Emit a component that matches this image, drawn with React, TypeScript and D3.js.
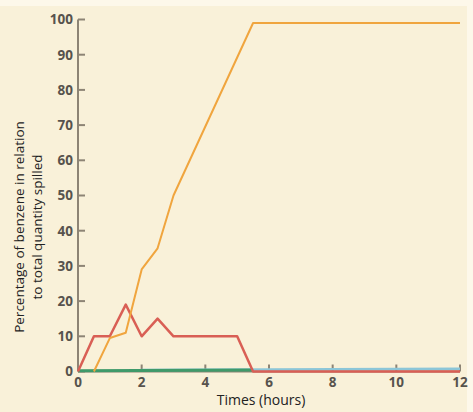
import React from "react";
import * as d3 from "d3";

const hours = [0, 0.5, 1, 1.5, 2, 2.5, 3, 5, 5.5, 12];
const orangeX = [0.5, 1, 1.5, 2, 2.5, 3, 5.5, 12];
const orangeY = [0, 9.5, 11, 29, 35, 50, 99, 99];
const redY = [0, 10, 10, 19, 10, 15, 10, 10, 0, 0];
const greenX = [0, 5.5];
const greenY = [0.2, 0.4];
const blueX = [2, 12];
const blueY = [0.4, 0.8];
const yTicks = [0, 10, 20, 30, 40, 50, 60, 70, 80, 90, 100];
const xTicks = [0, 2, 4, 6, 8, 10, 12];

const W = 473, H = 412;

export default function App() {
  const x = d3.scaleLinear().domain([0, 12]).range([78, 460]);
  const y = d3.scaleLinear().domain([0, 100]).range([371.5, 19.5]);
  const line = d3.line<[number, number]>().x(d => x(d[0])).y(d => y(d[1]));
  const zip = (xs: number[], ys: number[]) => xs.map((v, i) => [v, ys[i]] as [number, number]);
  const axisColor = "#8d8475";
  const tickColor = "#57534d";
  return (
    <svg width={W} height={H} style={{ position: "absolute", left: 0, top: 0 }}>
      <rect x={0} y={0} width={W} height={H} fill="#fdf8ea" />
      <rect x={0} y={6} width={467} height={H - 6} fill="#f9f1d9" />
      {/* y axis */}
      <line x1={x(0)} x2={x(0)} y1={y(100)} y2={y(0)} stroke={axisColor} strokeWidth={2} />
      {yTicks.map(t => (
        <g key={t}>
          <line x1={x(0)} x2={x(0) + 7} y1={y(t)} y2={y(t)} stroke={axisColor} strokeWidth={2} />
          <text x={x(0) - 5} y={y(t)} dy="0.36em" textAnchor="end" fontFamily="'Open Sans', sans-serif" fontWeight="bold" fontSize={13.5} fill={tickColor}>{t}</text>
        </g>
      ))}
      {/* x axis */}
      <line x1={x(0)} x2={x(12)} y1={y(0)} y2={y(0)} stroke={axisColor} strokeWidth={2} />
      {xTicks.map(t => (
        <g key={t}>
          {t > 0 && <line x1={x(t)} x2={x(t)} y1={y(0)} y2={y(0) - 7} stroke={axisColor} strokeWidth={2} />}
          <text x={x(t)} y={y(0) + 15.5} textAnchor="middle" fontFamily="'Open Sans', sans-serif" fontWeight="bold" fontSize={13.5} fill={tickColor}>{t}</text>
        </g>
      ))}
      {/* series */}
      <path d={line(zip(blueX, blueY)) || ""} fill="none" stroke="#8cc6d8" strokeWidth={2.5} />
      <path d={line(zip(greenX, greenY)) || ""} fill="none" stroke="#3f9a6a" strokeWidth={3} />
      <path d={line(zip(hours, redY)) || ""} fill="none" stroke="#d95f55" strokeWidth={2.5} strokeLinejoin="round" />
      <path d={line(zip(orangeX, orangeY)) || ""} fill="none" stroke="#f0a53e" strokeWidth={2} strokeLinejoin="round" />
      {/* labels */}
      <text x={261} y={405} textAnchor="middle" fontFamily="'Open Sans', sans-serif" fontSize={14} fill="#222">Times (hours)</text>
      <g transform="translate(24,227) rotate(-90)">
        <text x={0} y={0} textAnchor="middle" fontFamily="'Open Sans', sans-serif" fontSize={13.5} fill="#222">Percentage of benzene in relation</text>
        <text x={0} y={18} textAnchor="middle" fontFamily="'Open Sans', sans-serif" fontSize={13.5} fill="#222">to total quantity spilled</text>
      </g>
    </svg>
  );
}
